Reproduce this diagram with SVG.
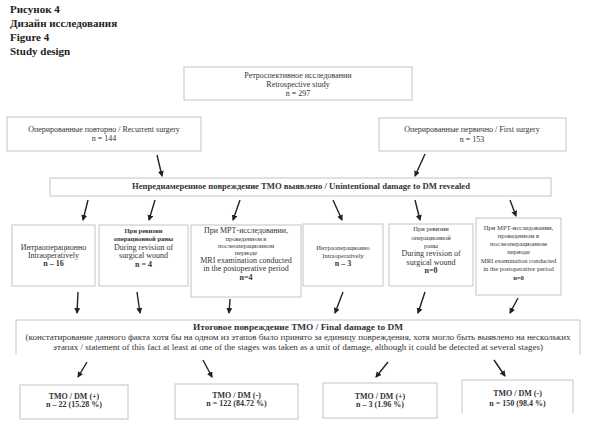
<svg xmlns="http://www.w3.org/2000/svg" width="593" height="430" viewBox="0 0 593 430">
<style>
text{font-family:"Liberation Serif","Times New Roman",serif;fill:#333;text-anchor:middle;font-size:8px}
.t{font-size:11px;font-weight:bold;text-anchor:start;fill:#222}
.b{font-weight:bold}
.s{font-size:6.5px}
.f{font-size:6.6px}
.box{fill:#fff;stroke:#c4c4c4;stroke-width:1}
.ar{stroke:#222;stroke-width:1.4;fill:none;marker-end:url(#ah)}
</style>
<defs>
<marker id="ah" markerUnits="userSpaceOnUse" markerWidth="7" markerHeight="7" refX="5" refY="3" orient="auto">
<path d="M0,0 L6,3 L0,6 z" fill="#222"/>
</marker>
</defs>
<rect width="593" height="430" fill="#fff"/>
<g id="title">
<text class="t" x="10" y="13">Рисунок 4</text>
<text class="t" x="10" y="27">Дизайн исследования</text>
<text class="t" x="10" y="41">Figure 4</text>
<text class="t" x="10" y="55">Study design</text>
</g>
<g id="connectors">
<line class="ar" x1="157" y1="155" x2="162" y2="176"/>
<line class="ar" x1="425" y1="154" x2="415" y2="176"/>
<line class="ar" x1="88" y1="200" x2="83" y2="220"/>
<line class="ar" x1="155" y1="200" x2="149" y2="220"/>
<line class="ar" x1="240" y1="200" x2="233" y2="220"/>
<line class="ar" x1="333" y1="200" x2="342" y2="220"/>
<line class="ar" x1="415" y1="200" x2="420" y2="220"/>
<line class="ar" x1="510" y1="200" x2="516" y2="216"/>
<line class="ar" x1="78" y1="292" x2="77" y2="313"/>
<line class="ar" x1="137" y1="292" x2="140" y2="313"/>
<line class="ar" x1="230" y1="299" x2="229" y2="313"/>
<line class="ar" x1="343" y1="292" x2="335" y2="313"/>
<line class="ar" x1="425" y1="292" x2="418" y2="313"/>
<line class="ar" x1="518" y1="298" x2="510" y2="313"/>
<line class="ar" x1="87" y1="362" x2="78" y2="377"/>
<line class="ar" x1="203" y1="360" x2="212" y2="377"/>
<line class="ar" x1="388" y1="362" x2="376" y2="377"/>
<line class="ar" x1="494" y1="360" x2="505" y2="376"/>
</g>
<g id="n1">
<rect class="box" x="184" y="67" width="228" height="33"/>
<text x="298" y="78">Ретроспективное исследовании</text>
<text x="298" y="86.5">Retrospective study</text>
<text x="298" y="96">n = 297</text>
</g>
<g id="n2">
<rect class="box" x="7" y="117" width="194" height="34"/>
<text x="104" y="132">Оперированные повторно / Recurrent surgery</text>
<text x="104" y="141">n = 144</text>
</g>
<g id="n3">
<rect class="box" x="379" y="118" width="187" height="33"/>
<text x="472" y="132">Оперированные первично / First surgery</text>
<text x="472" y="142">n = 153</text>
</g>
<g id="n4">
<rect class="box" x="50" y="178" width="501" height="18"/>
<text class="b" x="301" y="189" font-size="8.5" textLength="338" lengthAdjust="spacingAndGlyphs">Непреднамеренное повреждение ТМО выявлено / Unintentional damage to DM revealed</text>
</g>
<g id="n5">
<rect class="box" x="12" y="225" width="83" height="61"/>
<text x="53.5" y="250">Интраоперационно</text>
<text x="53.5" y="258">Intraoperatively</text>
<text class="b" x="53.5" y="266">n – 16</text>
</g>
<g id="n6">
<rect class="box" x="99" y="225" width="89" height="61"/>
<text class="s b" x="143.5" y="233">При ревизии</text>
<text class="s b" x="143.5" y="241">операционной раны</text>
<text x="143.5" y="250">During revision of</text>
<text x="143.5" y="258">surgical wound</text>
<text class="b" x="143.5" y="267">n = 4</text>
</g>
<g id="n7">
<rect class="box" x="191" y="225" width="110" height="72"/>
<text x="246" y="233">При МРТ-исследовании,</text>
<text class="s" x="246" y="240.5">проведенном в</text>
<text class="s" x="246" y="247.5">послеоперационном</text>
<text class="s" x="246" y="254.5">периоде</text>
<text x="246" y="263">MRI examination conducted</text>
<text x="246" y="271">in the postoperative period</text>
<text class="b" x="246" y="280">n=4</text>
</g>
<g id="n8">
<rect class="box" x="303" y="224" width="80" height="62"/>
<text class="s" x="343" y="250">Интраоперационно</text>
<text class="s" x="343" y="258">Intraoperatively</text>
<text class="b" x="343" y="266">n – 3</text>
</g>
<g id="n9">
<rect class="box" x="389" y="224" width="84" height="62"/>
<text class="s" x="431" y="231">При ревизии</text>
<text class="s" x="431" y="240">операционной</text>
<text class="s" x="431" y="248">раны</text>
<text x="431" y="256">During revision of</text>
<text x="431" y="265">surgical wound</text>
<text class="b" x="431" y="273">n=0</text>
</g>
<g id="n10">
<rect class="box" x="476" y="218" width="85" height="77"/>
<text class="f" x="518.5" y="230">При МРТ-исследовании,</text>
<text class="f" x="518.5" y="238">проведенном в</text>
<text class="f" x="518.5" y="246">послеоперационном</text>
<text class="f" x="518.5" y="254">периоде</text>
<text class="f" x="518.5" y="262.5">MRI examination conducted</text>
<text class="f" x="518.5" y="271">in the postoperative period</text>
<text class="f b" x="518.5" y="280">n=0</text>
</g>
<g id="n11">
<path class="box" d="M16,355 V320 H580 V355" fill="none"/>
<text class="b" x="298" y="330" textLength="210" lengthAdjust="spacingAndGlyphs">Итоговое повреждение ТМО / Final damage to DM</text>
<text x="298" y="340" textLength="545" lengthAdjust="spacingAndGlyphs">(констатирование данного факта хотя бы на одном из этапов было принято за единицу повреждения, хотя могло быть выявлено на нескольких</text>
<text x="298" y="350" textLength="490" lengthAdjust="spacingAndGlyphs">этапах / statement of this fact at least at one of the stages was taken as a unit of damage, although it could be detected at several stages)</text>
</g>
<g id="n12">
<rect class="box" x="20" y="385" width="108" height="34"/>
<text class="b" x="74" y="399">TMO / DM (+)</text>
<text class="b" x="74" y="407">n – 22 (15.28 %)</text>
</g>
<g id="n13">
<rect class="box" x="175" y="384" width="123" height="35"/>
<text class="b" x="236.5" y="398">TMO / DM (-)</text>
<text class="b" x="236.5" y="406">n = 122 (84.72 %)</text>
</g>
<g id="n14">
<rect class="box" x="323" y="383" width="114" height="35"/>
<text class="b" x="380" y="399">TMO / DM (+)</text>
<text class="b" x="380" y="407">n – 3 (1.96 %)</text>
</g>
<g id="n15">
<path class="box" d="M462,413 V380 H573 V413" fill="none"/>
<text class="b" x="517.5" y="396">TMO / DM (-)</text>
<text class="b" x="517.5" y="406">n = 150 (98.4 %)</text>
</g>
</svg>
